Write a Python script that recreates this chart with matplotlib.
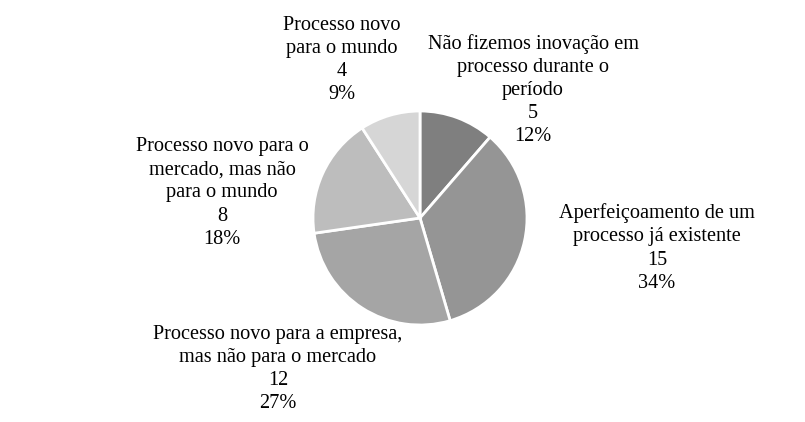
import matplotlib.pyplot as plt

labels = ["Não fizemos inovação em\nprocesso durante o\nperíodo",
          "Aperfeiçoamento de um\nprocesso já existente",
          "Processo novo para a empresa,\nmas não para o mercado",
          "Processo novo para o\nmercado, mas não\npara o mundo",
          "Processo novo\npara o mundo"]
counts = [5, 15, 12, 8, 4]
percents = [12, 34, 27, 18, 9]  # as printed in the original
colors = ["#7f7f7f", "#959595", "#a5a5a5", "#bdbdbd", "#d6d6d6"]
# label centres in pixels (x, y from top)
label_pos = [(533, 90), (657, 248), (278, 369), (222, 193), (342, 60)]

W, H = 805, 422
fig = plt.figure(figsize=(W / 100, H / 100), dpi=100)
ax = fig.add_axes([0, 0, 1, 1])

ax.pie(counts, colors=colors, startangle=90, counterclock=False,
       center=(420, H - 218), radius=107,
       wedgeprops=dict(edgecolor="white", linewidth=2))
ax.set_xlim(0, W)
ax.set_ylim(0, H)
ax.set_aspect("equal")
ax.axis("off")

for lab, n, pct, (px, py) in zip(labels, counts, percents, label_pos):
    ax.text(px, H - py, f"{lab}\n{n}\n{pct}%", ha="center", va="center",
            fontsize=14.6, family="Liberation Serif", linespacing=1.3,
            color="black")

fig.savefig("out.png", dpi=100)
